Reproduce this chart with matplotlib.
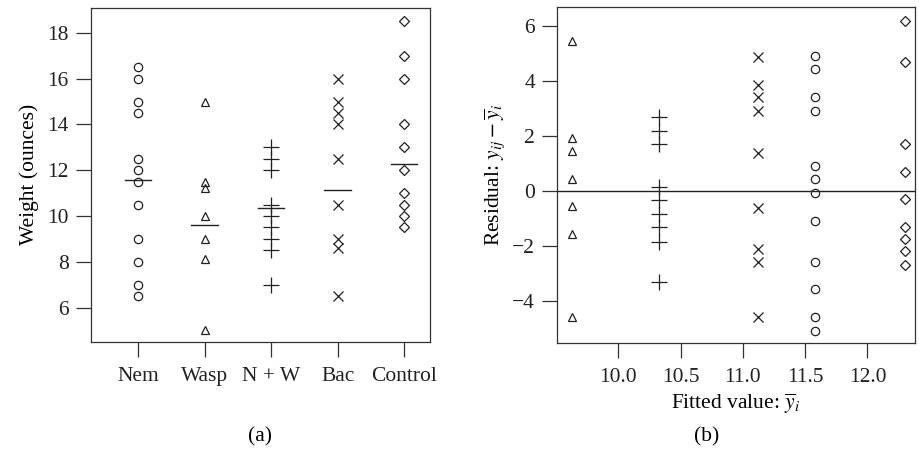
import matplotlib
matplotlib.use('Agg')
import matplotlib.pyplot as plt

plt.rcParams['font.family'] = ['Liberation Serif', 'DejaVu Serif']
plt.rcParams['mathtext.fontset'] = 'stix'
plt.rcParams['font.size'] = 15.5

# panel (a): weights by treatment
groups = ['Nem', 'Wasp', 'N + W', 'Bac', 'Control']
nem = [16.5, 16, 15, 14.5, 12.5, 12, 11.5, 10.5, 9, 8, 7, 6.5]
wasp = [15, 11.5, 11.2, 10, 9, 8.1, 5]
nw = [13, 12.5, 12, 10.5, 10, 9.5, 9, 8.5, 7]
bac = [16, 15, 14.5, 14, 12.5, 10.5, 9, 8.6, 6.5]
control = [18.5, 17, 16, 14, 13, 12, 11, 10.5, 10, 9.5]
group_means = [11.58, 9.6, 10.33, 11.12, 12.28]

# panel (b): residuals vs fitted values
fitted = [11.58, 9.63, 10.33, 11.12, 12.3]
res_nem = [4.9, 4.42, 3.42, 2.92, 0.92, 0.42, -0.08, -1.08, -2.58, -3.58, -4.58, -5.08]
res_wasp = [5.45, 1.94, 1.45, 0.43, -0.55, -1.56, -4.58]
res_nw = [2.68, 2.19, 1.7, 0.16, -0.33, -0.84, -1.33, -1.84, -3.3]
res_bac = [4.88, 3.85, 3.41, 2.91, 1.37, -0.63, -2.12, -2.6, -4.6]
res_control = [6.2, 4.7, 1.7, 0.7, -0.3, -1.3, -1.75, -2.2, -2.7]

markers = [('o', 6), ('^', 6), ('+', 11), ('x', 7), ('D', 5.5)]
ink = '#222222'

fig = plt.figure(figsize=(9.19, 4.51), dpi=100)
ax1 = fig.add_axes([0.099, 0.242, 0.369, 0.741])
ax2 = fig.add_axes([0.6064, 0.239, 0.389, 0.746])

weights = [nem, wasp, nw, bac, control]
for i, (vals, (m, ms)) in enumerate(zip(weights, markers)):
    xpos = i + 1
    ax1.plot([xpos] * len(vals), vals, linestyle='none', marker=m, ms=ms,
             mfc='none', mec=ink, mew=0.9)
    ax1.plot([xpos - 0.2, xpos + 0.2], [group_means[i]] * 2, color=ink, lw=1)

ax1.set_xlim(0.29, 5.39)
ax1.set_ylim(4.5, 19.1)
ax1.set_xticks(range(1, 6))
ax1.set_xticklabels(groups)
ax1.set_yticks([6, 8, 10, 12, 14, 16, 18])
ax1.set_ylabel('Weight (ounces)', labelpad=6)

residuals = [res_nem, res_wasp, res_nw, res_bac, res_control]
for i, (vals, (m, ms)) in enumerate(zip(residuals, markers)):
    ax2.plot([fitted[i]] * len(vals), vals, linestyle='none', marker=m, ms=ms,
             mfc='none', mec=ink, mew=0.9)
ax2.axhline(0, color=ink, lw=1)

ax2.set_xlim(9.51, 12.38)
ax2.set_ylim(-5.54, 6.7)
ax2.set_xticks([10.0, 10.5, 11.0, 11.5, 12.0])
ax2.set_xticklabels(['10.0', '10.5', '11.0', '11.5', '12.0'])
ax2.set_yticks([-4, -2, 0, 2, 4, 6])
ax2.set_ylabel(r'Residual: $y_{ij} - \overline{y}_i$', labelpad=4)
ax2.set_xlabel(r'Fitted value: $\overline{y}_i$', labelpad=3)

for ax in (ax1, ax2):
    for s in ax.spines.values():
        s.set_color('#333333')
        s.set_linewidth(0.9)
    ax.tick_params(direction='out', length=11, width=0.9, color='#333333',
                   labelcolor='#222222', pad=5)
    ax.tick_params(axis='x', pad=7)

fig.text(0.283, 0.032, '(a)', ha='center', va='center')
fig.text(0.769, 0.032, '(b)', ha='center', va='center')

fig.savefig('out.png', dpi=100)
